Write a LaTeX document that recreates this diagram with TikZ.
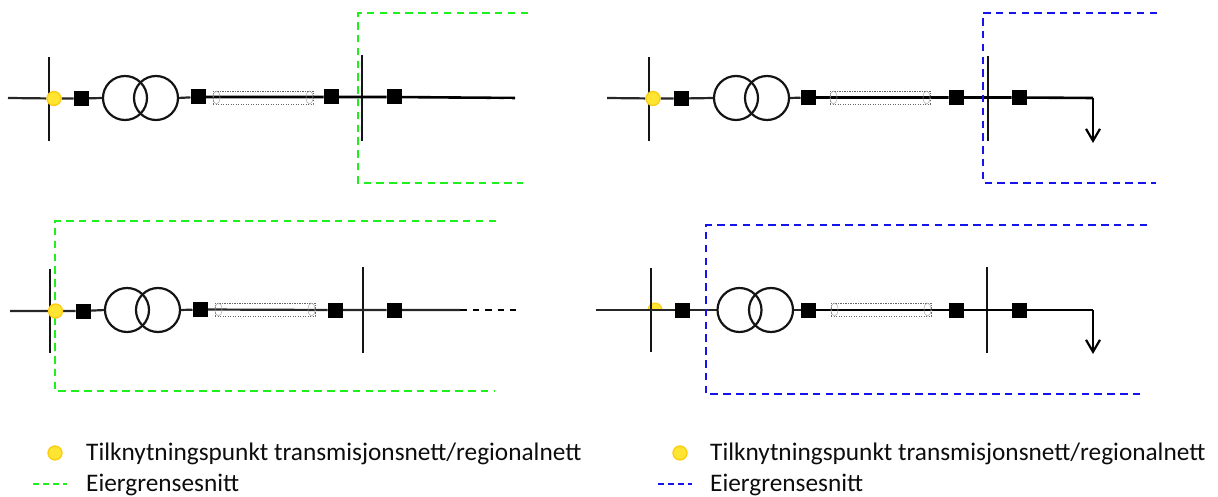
\documentclass[tikz,border=0pt]{standalone}
\usepackage{fontspec}
\setmainfont{Carlito}
\usetikzlibrary{arrows.meta,backgrounds,shapes.geometric}
\definecolor{gline}{RGB}{30,240,30}
\definecolor{bline}{RGB}{20,20,235}
\definecolor{ydot}{RGB}{255,228,50}
\definecolor{ydraw}{RGB}{252,205,20}
\tikzset{
  x=1pt,y=-1pt,
  sq/.style={draw=none,fill=black,minimum size=15pt,inner sep=0,outer sep=0},
  tr/.style={circle,draw=black!92,line width=2.2pt,minimum size=44pt,inner sep=0,outer sep=0},
  dot/.style={circle,fill=ydot,draw=ydraw,line width=1.3pt,minimum size=14pt,inner sep=0},
  wire/.style={draw=black!85,line width=2.2pt},
  heavy/.style={draw=black,line width=2.6pt},
  bus/.style={draw=black!92,line width=2.2pt},
  cablebox/.style={draw=black!60,dash pattern=on 1.4pt off 1.1pt,line width=.7pt,minimum width=100pt,minimum height=13pt,inner sep=0,outer sep=0},
  cableend/.style={ellipse,draw=black!35,line width=.5pt,minimum width=7pt,minimum height=13pt,inner sep=0,fill=none},
  gdash/.style={draw=gline,line width=2.3pt,dash pattern=on 7.5pt off 5.3pt},
  bdash/.style={draw=bline,line width=2.3pt,dash pattern=on 7.5pt off 5.3pt},
  glegend/.style={draw=gline,line width=2.2pt,dash pattern=on 6pt off 4pt},
  blegend/.style={draw=bline,line width=2.2pt,dash pattern=on 6pt off 4pt},
  tail/.style={draw=black,line width=2.6pt,dash pattern=on 6.5pt off 6pt},
  load/.style={draw=black,line width=2.4pt,-{Straight Barb[length=12pt,width=14pt,line width=2.2pt]}},
  lbl/.style={anchor=west,inner sep=0,font=\fontsize{25.3}{28}\selectfont,text=black!95},
}
\newcommand{\cablepart}[3]{%
  \node[cablebox] (#1box) at (#2,#3) {};
  \node[cableend] (#1left) at (#2-46.5,#3) {};
  \node[cableend] (#1right) at (#2+46.5,#3) {};
}
\begin{document}
\begin{tikzpicture}
\useasboundingbox (0,0) rectangle (1218,497);

% --- top left ---
\coordinate (as) at (8,98);
\coordinate (abt) at (49,57); \coordinate (abb) at (49,141);
\coordinate (act) at (362,55); \coordinate (acb) at (362,141);
\node[dot] (ad) at (54,98.5) {};
\node[sq] (a1) at (81,98.5) {};
\node[tr] (at1) at (125,98) {};
\node[tr] (at2) at (156,98) {};
\node[sq] (a2) at (198,97) {};
\cablepart{cabA}{263}{97.5}
\node[sq] (a3) at (331,97) {};
\node[sq] (a4) at (394,97) {};
\coordinate (ae) at (515,98);
\coordinate (ah1) at (465,99.2); \coordinate (ah2) at (512,99.2);
\coordinate (ag1) at (528,13); \coordinate (ag2) at (358,13);
\coordinate (ag3) at (358,183); \coordinate (ag4) at (523,183);

% --- top right ---
\coordinate (bs) at (607,98);
\coordinate (bbt) at (649,57); \coordinate (bbb) at (649,141);
\coordinate (bct) at (988,56); \coordinate (bcb) at (988,141);
\node[dot] (bd) at (653,98.5) {};
\node[sq] (b1) at (681,98.5) {};
\node[tr] (bt1) at (736,98) {};
\node[tr] (bt2) at (767,98) {};
\node[sq] (b2) at (808,97.5) {};
\cablepart{cabB}{880}{97.5}
\node[sq] (b3) at (956,97.5) {};
\node[sq] (b4) at (1019,97.5) {};
\coordinate (bk) at (1093,98); \coordinate (be) at (1093,143);
\coordinate (bg1) at (1157,13); \coordinate (bg2) at (983,13);
\coordinate (bg3) at (983,183); \coordinate (bg4) at (1156,183);

% --- bottom left ---
\coordinate (cs) at (10,311);
\coordinate (cbt) at (50,269); \coordinate (cbb) at (50,353);
\coordinate (cct) at (363,267); \coordinate (ccb) at (363,353);
\node[dot] (cd) at (55.5,311) {};
\node[sq] (c1) at (83,311) {};
\node[tr] (ct1) at (127,310) {};
\node[tr] (ct2) at (158,310) {};
\node[sq] (c2) at (200,309.5) {};
\cablepart{cabC}{265}{309.5}
\node[sq] (c3) at (335,310) {};
\node[sq] (c4) at (394,310) {};
\coordinate (ck) at (460,310); \coordinate (ce) at (516,310);
\coordinate (cg1) at (496,221); \coordinate (cg2) at (55,221);
\coordinate (cg3) at (55,391); \coordinate (cg4) at (495,391);

% --- bottom right ---
\coordinate (ds) at (596,310);
\coordinate (dbt) at (651,268); \coordinate (dbb) at (651,352);
\coordinate (dct) at (987,267); \coordinate (dcb) at (987,353);
\node[sq] (d1) at (682,310) {};
\node[tr] (dt1) at (739.5,310) {};
\node[tr] (dt2) at (771,310) {};
\node[sq] (d2) at (808,310) {};
\cablepart{cabD}{881}{309.5}
\node[sq] (d3) at (956,310) {};
\node[sq] (d4) at (1019,310) {};
\coordinate (dk) at (1093,310); \coordinate (de) at (1093,354);
\coordinate (dg1) at (1147,225); \coordinate (dg2) at (706,225);
\coordinate (dg3) at (706,394); \coordinate (dg4) at (1145,394);

\begin{scope}[on background layer]
  % half connection point below the wires
  \fill[ydot,draw=ydraw,line width=1pt] (648,310) arc[start angle=180,end angle=360,radius=7] -- cycle;
  % buses
  \foreach \p in {ab,ac,bb,bc,cb,cc,db,dc}{\draw[bus] (\p t) -- (\p b);}
  % top left
  \draw[wire] (as) -- (ad) -- (a1) -- (at1.west);
  \draw[wire] (at2.east) -- (a2);
  \draw[heavy] (a2) -- (a3) -- (a4) -- (ae);
  \draw[white,line width=.8pt,dash pattern=on 8pt off 5pt] (ah1) -- (ah2);
  % top right
  \draw[wire] (bs) -- (bd) -- (b1) -- (bt1.west);
  \draw[wire] (bt2.east) -- (b2);
  \draw[heavy] (b2) -- (b3) -- (b4) -- (bk);
  \draw[load] (bk) -- (be);
  % bottom left
  \draw[wire] (cs) -- (cd) -- (c1) -- (ct1.west);
  \draw[wire] (ct2.east) -- (c2);
  \draw[wire] (c2) -- (c3) -- (c4) -- (ck);
  \draw[tail] (ck) -- (ce);
  % bottom right
  \draw[wire] (ds) -- (d1) -- (dt1.west);
  \draw[wire] (dt2.east) -- (d2);
  \draw[heavy] (d2) -- (d3) -- (d4) -- (dk);
  \draw[load] (dk) -- (de);
  % ownership boundaries
  \draw[gdash] (ag1) -- (ag2) -- (ag3) -- (ag4);
  \draw[bdash] (bg1) -- (bg2) -- (bg3) -- (bg4);
  \draw[gdash] (cg1) -- (cg2) -- (cg3) -- (cg4);
  \draw[bdash] (dg1) -- (dg2) -- (dg3) -- (dg4);
\end{scope}

% legends
\node[dot] (lgd) at (55,453) {};
\node[lbl] (lgt) at (86,453.5) {Tilknytningspunkt transmisjonsnett/regionalnett};
\coordinate (lgs) at (33,484); \coordinate (lge) at (67,484);
\draw[glegend] (lgs) -- (lge);
\node[lbl] (lgu) at (86,484.5) {Eiergrensesnitt};

\node[dot] (lbd) at (680,453) {};
\node[lbl] (lbt) at (710,453.5) {Tilknytningspunkt transmisjonsnett/regionalnett};
\coordinate (lbs) at (658,484); \coordinate (lbe) at (692,484);
\draw[blegend] (lbs) -- (lbe);
\node[lbl] (lbu) at (710,484.5) {Eiergrensesnitt};
\end{tikzpicture}
\end{document}
